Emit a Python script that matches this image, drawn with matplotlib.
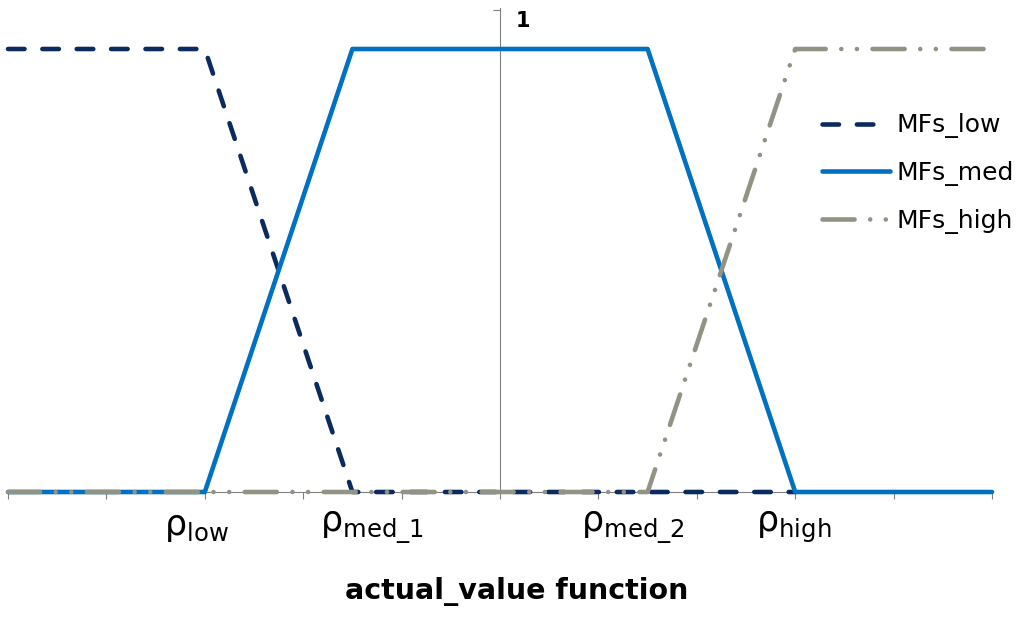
import matplotlib
matplotlib.use("Agg")
import matplotlib.pyplot as plt

plt.rcParams['font.family'] = ['DejaVu Sans']
plt.rcParams['mathtext.fontset'] = 'custom'
plt.rcParams['mathtext.rm'] = 'DejaVu Sans'

# ---- data ----
low_x = [0, 2, 3.5, 8]
low_y = [1, 1, 0, 0]
med_x = [0, 2, 3.5, 6.5, 8, 10]
med_y = [0, 0, 1, 1, 0, 0]
high_x = [0, 6.5, 8, 10]
high_y = [0, 0, 1, 1]
series_names = ["MFs_low", "MFs_med", "MFs_high"]
tick_labels = [r"$\mathrm{ρ}_{\mathrm{low}}$", r"$\mathrm{ρ}_{\mathrm{med\_1}}$",
               r"$\mathrm{ρ}_{\mathrm{med\_2}}$", r"$\mathrm{ρ}_{\mathrm{high}}$"]
tick_label_pos = [1.92, 3.70, 6.35, 7.98]
x_ticks = list(range(0, 11))
xlabel = "actual_value function"
ymax_label = "1"

c_low = "#0B2A60"
c_med = "#0070C0"
c_high = "#929385"
axis_c = "#808080"

fig = plt.figure(figsize=(10.24, 6.19), dpi=100)
ax = fig.add_axes([8/1024, 1 - 492/619, 984/1024, 484/619])
ax.set_xlim(0, 10)
ax.set_ylim(0, 484/443)

lw = 3.3
l1, = ax.plot(low_x, low_y, color=c_low, lw=lw, label=series_names[0],
              solid_capstyle='round', dash_capstyle='round', clip_on=False, zorder=3)
l1.set_dashes([3.6, 3.9])
l2, = ax.plot(med_x, med_y, color=c_med, lw=lw, label=series_names[1],
              solid_capstyle='round', clip_on=False, zorder=4)
l3, = ax.plot(high_x, high_y, color=c_high, lw=lw, label=series_names[2],
              dash_capstyle='round', clip_on=False, zorder=5)
l3.set_dashes([7.0, 3.4, 0.01, 3.4, 0.01, 3.4])

for s in ['top', 'right']:
    ax.spines[s].set_visible(False)
ax.spines['left'].set_position(('data', 5))
ax.spines['left'].set_color(axis_c)
ax.spines['left'].set_linewidth(0.8)
ax.spines['bottom'].set_color(axis_c)
ax.spines['bottom'].set_linewidth(0.8)
ax.set_xticks(x_ticks)
ax.set_xticklabels([])
ax.tick_params(axis='x', direction='out', length=5, color=axis_c, width=0.8)
ax.set_yticks([ax.get_ylim()[1] - 0.004])
ax.set_yticklabels([])
ax.tick_params(axis='y', direction='out', length=5, color=axis_c, width=0.8)

fig.text(516/1024, 1 - 11/619, ymax_label, fontsize=15, fontweight='bold', ha='left', va='top')

for lab, xp in zip(tick_labels, tick_label_pos):
    ax.text(xp, -0.04, lab, fontsize=25, ha='center', va='top')

fig.text(517/1024, 1 - 591/619, xlabel, fontsize=20.5, fontweight='bold', ha='center', va='center')

leg = ax.legend(loc='upper left', bbox_to_anchor=(799/1024, 1 - 91/619),
                bbox_transform=fig.transFigure, frameon=False, fontsize=18,
                handlelength=2.75, handletextpad=0.25, labelspacing=0.9)

fig.savefig("out.png", dpi=100)
